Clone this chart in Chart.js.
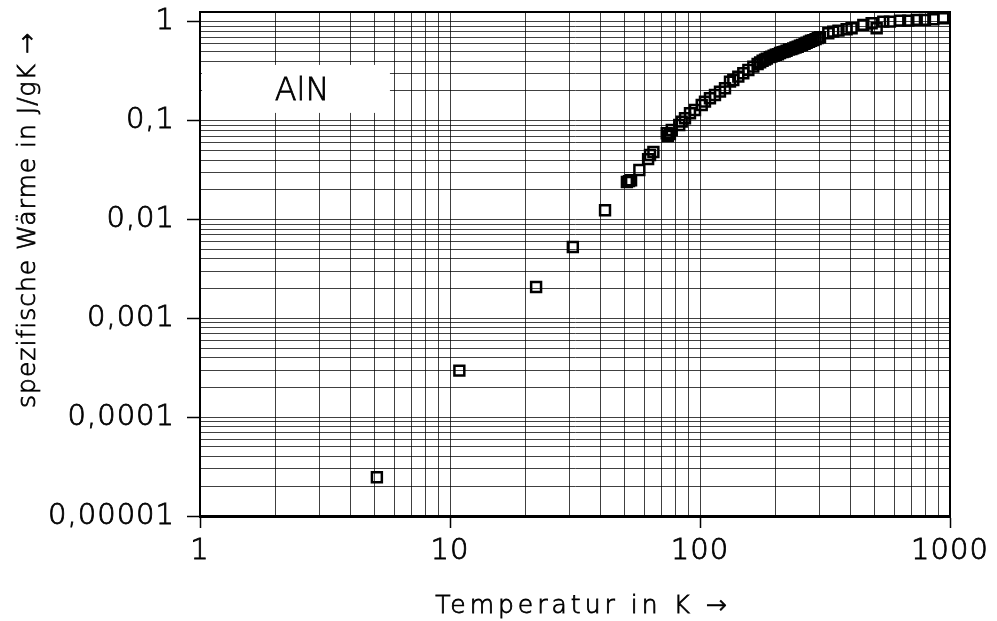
<!DOCTYPE html>
<html>
<head>
<meta charset="utf-8">
<script src="https://cdn.jsdelivr.net/npm/chart.js@4/dist/chart.umd.min.js"></script>
<style>
  html, body { margin: 0; padding: 0; background: #fff; }
  #wrap { width: 997px; height: 621px; }
</style>
</head>
<body>
<div id="wrap"><canvas id="c" width="997" height="621"></canvas></div>
<script>
// ---- data ----
const temperatures = [
  5.1, 10.9, 22.1, 31.0, 41.7,
  51.0, 52.0, 53.0, 57.2, 62.0, 63.1, 65.1,
  73.6, 74.4, 75.8, 77.1, 82.6, 84.5, 87.1, 91.2, 95.5,
  101.6, 104.7, 109.6, 114.8, 120.2, 125.9, 131.8, 135.9, 142.3, 149.0, 156.1, 163.4,
  170, 174, 178, 182, 185, 190, 193, 197, 201, 205, 209, 214, 218, 222, 227, 232,
  236, 241, 246, 251, 256, 262, 267, 273, 278, 284, 290, 296, 302,
  326, 341, 358, 386, 404, 450, 486, 509, 541, 575, 631, 681, 736, 794, 858, 940
];
const heatValues = [
  0.0000247, 0.000296, 0.00208, 0.00527, 0.0124,
  0.0240, 0.0245, 0.0250, 0.0317, 0.0409, 0.0450, 0.0483,
  0.0747, 0.0703, 0.0735, 0.0807, 0.0906, 0.0979, 0.106, 0.119, 0.1286,
  0.1445, 0.156, 0.169, 0.1824, 0.197, 0.2133, 0.2487, 0.2588, 0.2795, 0.3024, 0.3266, 0.3528,
  0.375, 0.39, 0.405, 0.415, 0.425, 0.44, 0.445, 0.455, 0.465, 0.47, 0.485, 0.495, 0.50, 0.51, 0.525, 0.53,
  0.54, 0.55, 0.56, 0.575, 0.585, 0.60, 0.615, 0.63, 0.645, 0.655, 0.67, 0.685, 0.70,
  0.768, 0.798, 0.816, 0.844, 0.863, 0.933, 0.97, 0.863, 1.007, 1.007, 1.031, 1.031, 1.048, 1.048, 1.065, 1.09
];

// axis ticks
const xDecades = [1, 10, 100, 1000];
const xTickLabels = ["1", "10", "100", "1000"];
const yDecades = [0.00001, 0.0001, 0.001, 0.01, 0.1, 1];
const yTickLabels = ["0,00001", "0,0001", "0,001", "0,01", "0,1", "1"];
const minorSteps = [2, 3, 4, 5, 6, 7, 8, 9];

const xMin = 1, xMax = 1000;
const yMin = 0.00001, yMax = 1.26;

const xAxisTitle = "Temperatur in K \u2192";
const yAxisTitle = "spezifische W\u00e4rme in J/gK \u2192";
const boxLabel = "AlN";

// ---- helpers ----
function buildLogTicks(decades) {
  const out = [];
  decades.forEach((d, i) => {
    out.push({ value: d, major: true });
    if (i < decades.length - 1) minorSteps.forEach(m => out.push({ value: d * m, major: false }));
  });
  return out;
}
function labelFor(v, decades, labels) {
  for (let i = 0; i < decades.length; i++) {
    if (Math.abs(v / decades[i] - 1) < 1e-6) return labels[i];
  }
  return '';
}

const points = temperatures.map((t, i) => ({ x: t, y: heatValues[i] }));

const FONT = "'DejaVu Sans', sans-serif";
const WEIGHT = 200;
const STROKE = 0.8;

const spacingPlugin = {
  id: 'spacing',
  beforeUpdate(chart) { chart.ctx.letterSpacing = '1px'; },
  beforeDraw(chart) { chart.ctx.letterSpacing = '1px'; }
};

function drawText(ctx, txt, x, y) {
  ctx.fillText(txt, x, y);
  ctx.strokeText(txt, x, y);
}

const decorPlugin = {
  id: 'decor',
  beforeDatasetsDraw(chart) {
    const { ctx, scales: { x, y } } = chart;
    // white label box
    const l = chart.chartArea.left + 2;
    const r = x.getPixelForValue(5.75);
    const t = y.getPixelForValue(0.367);
    const b = y.getPixelForValue(0.12);
    ctx.save();
    ctx.fillStyle = '#fff';
    ctx.fillRect(l, t, r - l, b - t);
    ctx.fillStyle = '#000';
    ctx.strokeStyle = '#000';
    ctx.lineWidth = STROKE;
    ctx.font = WEIGHT + " 32px " + FONT;
    ctx.letterSpacing = '0px';
    ctx.textAlign = 'center';
    ctx.textBaseline = 'middle';
    drawText(ctx, boxLabel, x.getPixelForValue(2.56), y.getPixelForValue(0.195));
    ctx.restore();
  },
  afterDraw(chart) {
    const { ctx, chartArea: a } = chart;
    ctx.save();
    // frame top and right
    ctx.strokeStyle = '#000';
    ctx.lineWidth = 2;
    ctx.beginPath();
    ctx.moveTo(a.left, a.top);
    ctx.lineTo(a.right, a.top);
    ctx.lineTo(a.right, a.bottom);
    ctx.stroke();
    // axis titles
    ctx.fillStyle = '#000';
    ctx.lineWidth = STROKE;
    ctx.font = WEIGHT + " 25px " + FONT;
    ctx.letterSpacing = '4px';
    ctx.textAlign = 'center';
    ctx.textBaseline = 'alphabetic';
    drawText(ctx, xAxisTitle, 583, 613);
    ctx.letterSpacing = '1px';
    ctx.translate(35, 220);
    ctx.rotate(-Math.PI / 2);
    drawText(ctx, yAxisTitle, 0, 0);
    ctx.restore();
  }
};

new Chart(document.getElementById('c'), {
  type: 'scatter',
  data: {
    datasets: [{
      data: points,
      pointStyle: 'rect',
      pointRadius: 7,
      pointHoverRadius: 7,
      borderWidth: 2.5,
      borderColor: '#000',
      backgroundColor: 'rgba(0,0,0,0)',
      showLine: false
    }]
  },
  options: {
    responsive: false,
    devicePixelRatio: 1,
    animation: false,
    events: [],
    layout: { padding: { top: 12, right: 47, left: 0, bottom: 0 } },
    plugins: { legend: { display: false }, tooltip: { enabled: false }, title: { display: false } },
    scales: {
      x: {
        type: 'logarithmic',
        min: xMin, max: xMax,
        afterBuildTicks: s => { s.ticks = buildLogTicks(xDecades); },
        afterFit: s => { s.height = 105; s.paddingLeft = 0; s.paddingRight = 0; },
        ticks: {
          autoSkip: false, maxRotation: 0, padding: 6,
          color: '#000',
          textStrokeColor: '#000',
          textStrokeWidth: STROKE,
          font: { family: FONT, size: 29, weight: WEIGHT },
          callback: v => labelFor(v, xDecades, xTickLabels)
        },
        grid: {
          color: 'rgba(0,0,0,0.75)',
          lineWidth: 1,
          drawTicks: true,
          tickLength: 12,
          tickWidth: 1.5,
          tickColor: ctx => (ctx.tick && ctx.tick.major ? '#000' : 'rgba(0,0,0,0)')
        },
        border: { display: true, color: '#000', width: 3 },
        title: { display: false }
      },
      y: {
        type: 'logarithmic',
        min: yMin, max: yMax,
        afterBuildTicks: s => { s.ticks = buildLogTicks(yDecades); },
        afterFit: s => { s.width = 200; s.paddingTop = 0; s.paddingBottom = 0; },
        ticks: {
          autoSkip: false, padding: 12,
          color: '#000',
          textStrokeColor: '#000',
          textStrokeWidth: STROKE,
          font: { family: FONT, size: 29, weight: WEIGHT },
          callback: v => labelFor(v, yDecades, yTickLabels)
        },
        grid: {
          color: 'rgba(0,0,0,0.75)',
          lineWidth: 1,
          drawTicks: true,
          tickLength: 13,
          tickWidth: 1.5,
          tickColor: ctx => (ctx.tick && ctx.tick.major ? '#000' : 'rgba(0,0,0,0)')
        },
        border: { display: true, color: '#000', width: 2 },
        title: { display: false }
      }
    }
  },
  plugins: [spacingPlugin, decorPlugin]
});
</script>
</body>
</html>
